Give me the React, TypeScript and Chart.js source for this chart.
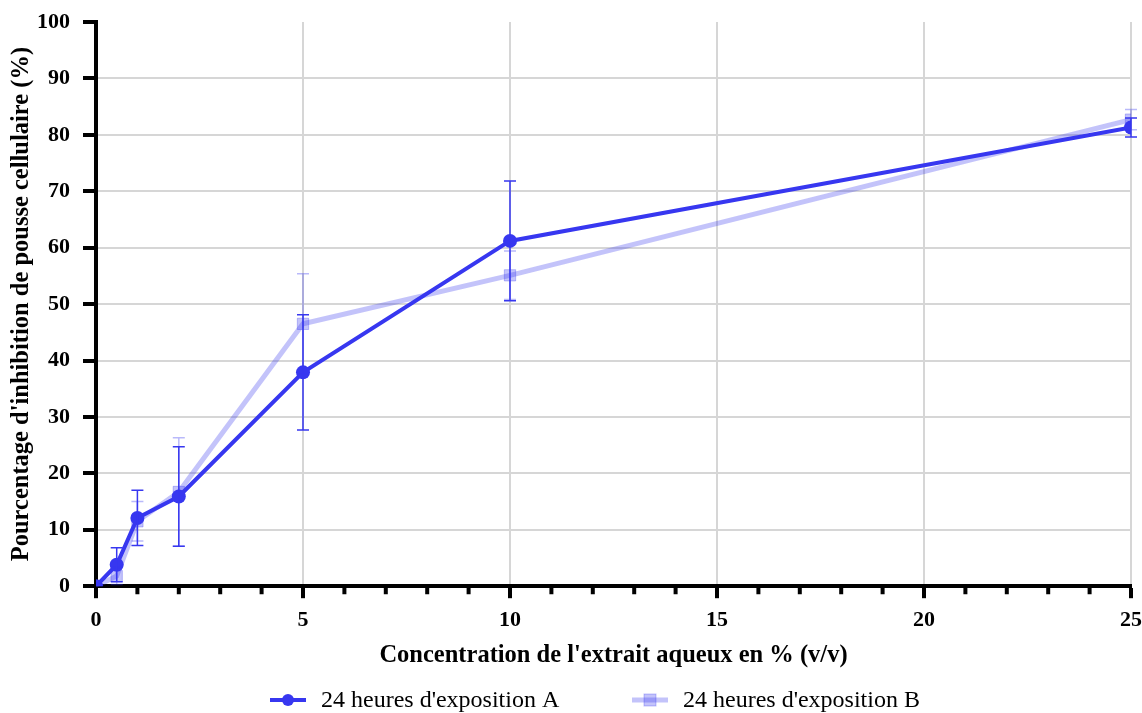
import React, { useEffect, useRef } from "react";
import { Chart, registerables } from "chart.js";

Chart.register(...registerables);

const xValues = [0, 0.5, 1, 2, 5, 10, 25];
const seriesA = [0, 3.8, 12.1, 15.9, 37.9, 61.2, 81.3];
const errorA = [0, 3.0, 4.9, 8.8, 10.2, 10.6, 1.7];
const seriesB = [0, 1.8, 11.5, 16.7, 46.5, 55.1, 82.7];
const errorB = [0, 1.5, 3.5, 9.6, 8.9, 4.3, 1.8];
const labelA = "24 heures d'exposition A";
const labelB = "24 heures d'exposition B";
const xTitle = "Concentration de l'extrait aqueux en % (v/v)";
const yTitle = "Pourcentage d'inhibition de pousse cellulaire (%)";

const COLOR_A = "rgb(55,55,240)";
const COLOR_B = "rgba(55,55,240,0.3)";
const FONT = "'Liberation Serif', 'Times New Roman', serif";

const errors = [errorA, errorB];
const errColors = [COLOR_A, "rgba(55,55,240,0.35)"];

const minorTickPlugin = {
  id: "minorTicks",
  afterDraw(chart: any) {
    const ctx = chart.ctx;
    const xs = chart.scales.x;
    const y0 = chart.chartArea.bottom;
    ctx.save();
    ctx.strokeStyle = "#000";
    ctx.lineWidth = 4;
    ctx.beginPath();
    xs.ticks.forEach((t: any) => {
      if (t.value % 5 === 0) return;
      const px = xs.getPixelForValue(t.value);
      ctx.moveTo(px, y0);
      ctx.lineTo(px, y0 + 8);
    });
    ctx.stroke();
    ctx.restore();
  },
};

const errorBarPlugin = {
  id: "errorBars",
  afterDatasetsDraw(chart: any) {
    const ctx = chart.ctx;
    const xs = chart.scales.x;
    const ys = chart.scales.y;
    for (let d = chart.data.datasets.length - 1; d >= 0; d--) {
      const ds = chart.data.datasets[d];
      const err = errors[d];
      ctx.save();
      ctx.strokeStyle = errColors[d];
      ctx.lineWidth = 1.5;
      ds.data.forEach((p: any, i: number) => {
        const e = err[i];
        if (!e) return;
        const px = xs.getPixelForValue(p.x);
        const top = ys.getPixelForValue(p.y + e);
        const bot = ys.getPixelForValue(p.y - e);
        ctx.beginPath();
        ctx.moveTo(px, top);
        ctx.lineTo(px, bot);
        ctx.moveTo(px - 6, top);
        ctx.lineTo(px + 6, top);
        ctx.moveTo(px - 6, bot);
        ctx.lineTo(px + 6, bot);
        ctx.stroke();
      });
      ctx.restore();
    }
  },
};

const legendPlugin = {
  id: "customLegend",
  afterDraw(chart: any) {
    const ctx = chart.ctx;
    const y = 700;
    const items = [
      { label: labelA, x: 270, color: COLOR_A, lw: 4, style: "circle" },
      { label: labelB, x: 632, color: COLOR_B, lw: 5, style: "rect" },
    ];
    ctx.save();
    items.forEach((it) => {
      ctx.strokeStyle = it.color;
      ctx.lineWidth = it.lw;
      ctx.beginPath();
      ctx.moveTo(it.x, y);
      ctx.lineTo(it.x + 36, y);
      ctx.stroke();
      ctx.fillStyle = it.color;
      const cx = it.x + 18;
      if (it.style === "circle") {
        ctx.beginPath();
        ctx.arc(cx, y, 6, 0, Math.PI * 2);
        ctx.fill();
      } else {
        ctx.fillRect(cx - 6, y - 6, 12, 12);
        ctx.lineWidth = 1;
        ctx.strokeRect(cx - 6, y - 6, 12, 12);
      }
      ctx.fillStyle = "#000";
      ctx.font = `24px ${FONT}`;
      ctx.textBaseline = "middle";
      ctx.textAlign = "left";
      ctx.fillText(it.label, it.x + 51, y + 1);
    });
    ctx.restore();
  },
};

export default function App() {
  const ref = useRef<HTMLCanvasElement>(null);
  useEffect(() => {
    document.body.style.margin = "0";
    const chart = new Chart(ref.current!, {
      type: "line",
      data: {
        datasets: [
          {
            label: labelA,
            data: xValues.map((x, i) => ({ x, y: seriesA[i] })),
            borderColor: COLOR_A,
            backgroundColor: COLOR_A,
            borderWidth: 4,
            pointRadius: 7,
            pointStyle: "circle",
            pointBorderWidth: 0,
          },
          {
            label: labelB,
            data: xValues.map((x, i) => ({ x, y: seriesB[i] })),
            borderColor: COLOR_B,
            backgroundColor: COLOR_B,
            borderWidth: 5,
            pointRadius: 8,
            pointStyle: "rect",
            pointBorderWidth: 1,
          },
        ],
      },
      options: {
        animation: false,
        responsive: false,
        layout: { padding: { left: 7, right: 0, top: 22, bottom: 43 } },
        plugins: { legend: { display: false }, tooltip: { enabled: false } },
        scales: {
          x: {
            type: "linear",
            min: 0,
            max: 25,
            afterFit: (s: any) => {
              s.paddingRight = 11;
              s.paddingLeft = 0;
            },
            border: { display: true, color: "#000", width: 4 },
            grid: {
              color: (c: any) => (c.tick && c.tick.value % 5 === 0 && c.tick.value !== 0 ? "#d6d6d6" : "rgba(0,0,0,0)"),
              lineWidth: 2,
              tickColor: (c: any) => (c.tick && c.tick.value % 5 === 0 ? "#000" : "rgba(0,0,0,0)"),
              tickWidth: 4,
              tickLength: 12,
              drawOnChartArea: true,
            },
            ticks: {
              stepSize: 1,
              autoSkip: false,
              maxRotation: 0,
              padding: 9,
              color: "#000",
              font: { family: FONT, size: 22, weight: "bold" },
              callback: (v: any) => (Number(v) % 5 === 0 ? String(v) : ""),
            },
            title: {
              display: true,
              text: xTitle,
              color: "#000",
              font: { family: FONT, size: 24.5, weight: "bold" },
              padding: { top: -2, bottom: 0 },
            },
          },
          y: {
            type: "linear",
            min: 0,
            max: 100,
            afterFit: (s: any) => {
              s.width = 89;
              s.paddingTop = 0;
              s.paddingBottom = 0;
            },
            border: { display: true, color: "#000", width: 4 },
            grid: {
              color: (c: any) => (c.tick && c.tick.value !== 0 && c.tick.value !== 100 ? "#d6d6d6" : "rgba(0,0,0,0)"),
              lineWidth: 2,
              tickColor: "#000",
              tickWidth: 4,
              tickLength: 13,
            },
            ticks: {
              stepSize: 10,
              padding: 13,
              color: "#000",
              font: { family: FONT, size: 22, weight: "bold" },
            },
            title: {
              display: true,
              text: yTitle,
              color: "#000",
              font: { family: FONT, size: 24.5, weight: "bold" },
              padding: { top: 0, bottom: 0 },
            },
          },
        },
      } as any,
      plugins: [errorBarPlugin, minorTickPlugin, legendPlugin],
    });
    return () => chart.destroy();
  }, []);
  return (
    <div style={{ position: "fixed", left: 0, top: 0, width: 1142, height: 713 }}>
      <canvas ref={ref} width={1142} height={713} style={{ width: 1142, height: 713 }} />
    </div>
  );
}
